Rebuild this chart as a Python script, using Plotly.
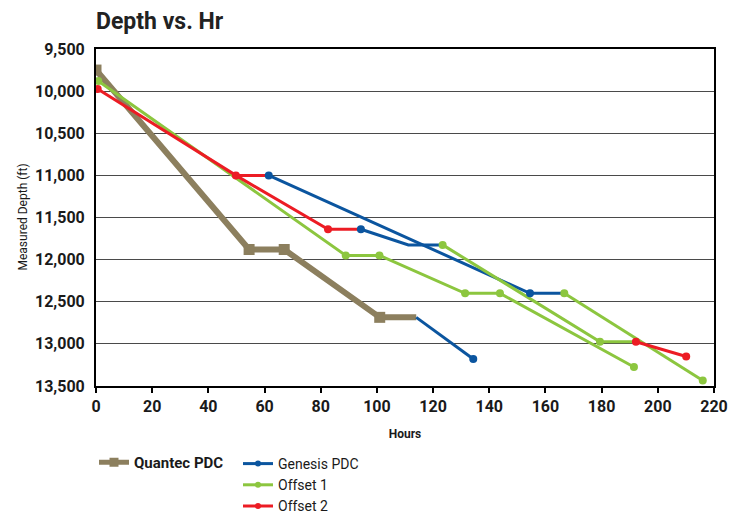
import plotly.graph_objects as go

# ---------------- data ----------------
x_ticks = [0, 20, 40, 60, 80, 100, 120, 140, 160, 180, 200, 220]
y_ticks = [9500, 10000, 10500, 11000, 11500, 12000, 12500, 13000, 13500]

quantec_hours = [0, 54.5, 67, 101, 114]
quantec_depth = [9750, 11880, 11880, 12685, 12685]
quantec_marked = [1, 1, 1, 1, 0]

genesis_hours_1 = [61.5, 154.5, 166.7]
genesis_depth_1 = [11000, 12400, 12400]
genesis_marked_1 = [1, 1, 0]
genesis_hours_2 = [94.3, 111.2, 123.4]
genesis_depth_2 = [11640, 11825, 11825]
genesis_marked_2 = [1, 0, 0]
genesis_hours_3 = [114, 134.3]
genesis_depth_3 = [12685, 13180]
genesis_marked_3 = [0, 1]

offset1_hours_1 = [0.8, 88.9, 100.9, 131.4, 143.8, 191.5]
offset1_depth_1 = [9880, 11950, 11950, 12400, 12400, 13275]
offset1_marked_1 = [1, 1, 1, 1, 1, 1]
offset1_hours_2 = [123.4, 179.4, 192.2]
offset1_depth_2 = [11825, 12975, 12975]
offset1_marked_2 = [1, 1, 0]
offset1_hours_3 = [166.7, 216]
offset1_depth_3 = [12400, 13435]
offset1_marked_3 = [1, 1]

offset2_hours_1 = [0.6, 49.8, 61.5]
offset2_depth_1 = [9975, 11000, 11000]
offset2_marked_1 = [1, 1, 0]
offset2_hours_2 = [49.8, 82.6, 94.3]
offset2_depth_2 = [11000, 11640, 11640]
offset2_marked_2 = [0, 1, 0]
offset2_hours_3 = [192.2, 210.1]
offset2_depth_3 = [12975, 13150]
offset2_marked_3 = [1, 1]

# ---------------- styling ----------------
TAN = "#8C7F5E"
BLUE = "#0B559F"
GREEN = "#8CC63F"
RED = "#EC1C24"
FONT = "Roboto, Liberation Sans, sans-serif"
TXT = "#1a1a1a"

# page has an 8px body margin, so the figure is drawn 8px smaller
W, H = 740, 505
ML, MR, MT, MB = 88, 34, 41, 127
PLOT_W = W - ML - MR

series = [
    ("Quantec PDC", TAN, 6, "square", 11, "legend",
     [(quantec_hours, quantec_depth, quantec_marked)]),
    ("Genesis PDC", BLUE, 3, "circle", 8, "legend2",
     [(genesis_hours_1, genesis_depth_1, genesis_marked_1),
      (genesis_hours_2, genesis_depth_2, genesis_marked_2),
      (genesis_hours_3, genesis_depth_3, genesis_marked_3)]),
    ("Offset 1", GREEN, 3, "circle", 8, "legend2",
     [(offset1_hours_1, offset1_depth_1, offset1_marked_1),
      (offset1_hours_2, offset1_depth_2, offset1_marked_2),
      (offset1_hours_3, offset1_depth_3, offset1_marked_3)]),
    ("Offset 2", RED, 3, "circle", 8, "legend2",
     [(offset2_hours_1, offset2_depth_1, offset2_marked_1),
      (offset2_hours_2, offset2_depth_2, offset2_marked_2),
      (offset2_hours_3, offset2_depth_3, offset2_marked_3)]),
]

fig = go.Figure()

# lines first
for name, color, lw, sym, ms, leg, segs in series:
    xs, ys = [], []
    for h, d, m in segs:
        xs += list(h) + [None]
        ys += list(d) + [None]
    fig.add_trace(go.Scatter(x=xs, y=ys, mode="lines", name=name,
                             line=dict(color=color, width=lw),
                             showlegend=False, hoverinfo="skip",
                             connectgaps=False))

# markers on top
for name, color, lw, sym, ms, leg, segs in series:
    xs, ys = [], []
    for h, d, m in segs:
        for xi, yi, mi in zip(h, d, m):
            if mi:
                xs.append(xi)
                ys.append(yi)
    fig.add_trace(go.Scatter(x=xs, y=ys, mode="markers", name=name,
                             marker=dict(color=color, size=ms, symbol=sym),
                             showlegend=False))

# legend entries
for name, color, lw, sym, ms, leg, segs in series:
    fig.add_trace(go.Scatter(x=[None], y=[None], mode="lines+markers", name=name,
                             line=dict(color=color, width=lw - 1 if lw > 3 else lw),
                             marker=dict(color=color, size=ms - 2, symbol=sym),
                             legend=leg, showlegend=True))

fig.add_annotation(text="Measured Depth (ft)", textangle=-90,
                   xref="paper", yref="paper", x=(14 - ML) / PLOT_W, y=0.5,
                   xanchor="center", yanchor="middle", showarrow=False,
                   font=dict(family=FONT, size=12, color=TXT))

fig.update_layout(
    width=W, height=H,
    margin=dict(l=ML, r=MR, t=MT, b=MB, autoexpand=False),
    paper_bgcolor="white", plot_bgcolor="white",
    font=dict(family=FONT, color=TXT),
    title=dict(text="Depth vs. Hr", x=0, xanchor="left", xref="paper",
               y=1 - 13 / H, yanchor="middle", yref="container",
               font=dict(family=FONT, size=23, weight="bold", color="#222222")),
    xaxis=dict(range=[0, 220], tickvals=x_ticks, ticks="outside", ticklen=5,
               tickcolor="black", tickwidth=1.5,
               showline=True, linecolor="black", linewidth=2, mirror=True,
               showgrid=False, zeroline=False, automargin=True,
               tickfont=dict(family=FONT, size=16, weight="bold", color=TXT),
               title=dict(text="Hours", standoff=14,
                          font=dict(family=FONT, size=12, weight="bold", color=TXT))),
    yaxis=dict(range=[13500, 9500], tickvals=y_ticks, tickformat=",",
               showline=True, linecolor="black", linewidth=2, mirror=True,
               showgrid=True, gridcolor="#4a4a4a", gridwidth=1, zeroline=False,
               ticks="", ticklabelstandoff=6, automargin=False,
               tickfont=dict(family=FONT, size=16, weight="bold", color=TXT)),
    legend=dict(x=86 / W, y=1 - 438 / H, xref="container", yref="container",
                xanchor="left", yanchor="top",
                orientation="v", bgcolor="rgba(0,0,0,0)",
                font=dict(family=FONT, size=15, weight="bold", color=TXT),
                itemwidth=30),
    legend2=dict(x=230 / W, y=1 - 440 / H, xref="container", yref="container",
                 xanchor="left", yanchor="top",
                 orientation="v", bgcolor="rgba(0,0,0,0)", tracegroupgap=0,
                 font=dict(family=FONT, size=14, color=TXT),
                 itemwidth=30),
)

fig.write_html("out.html")
